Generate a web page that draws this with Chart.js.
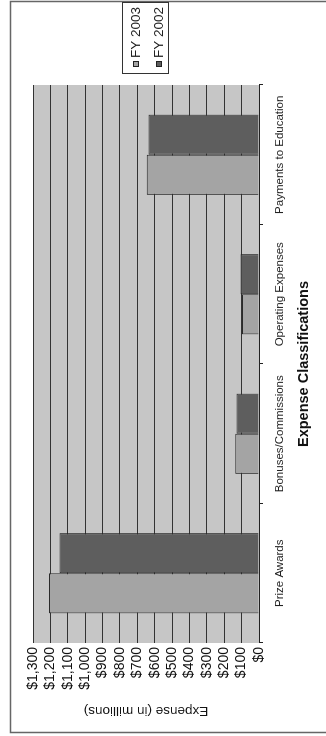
<!DOCTYPE html>
<html>
<head>
<meta charset="utf-8">
<script src="https://cdn.jsdelivr.net/npm/chart.js@4/dist/chart.umd.min.js"></script>
<style>
  html, body { margin: 0; padding: 0; background: #fff; }
  body { width: 326px; height: 736px; overflow: hidden; position: relative; }
  /* the chart is laid out landscape and turned a quarter turn counter-clockwise */
  #wrap {
    position: absolute; left: 0; top: 0;
    width: 736px; height: 326px;
    transform-origin: 0 0;
    transform: translateY(736px) rotate(-90deg);
  }
  canvas { display: block; }
</style>
</head>
<body>
<div id="wrap"><canvas id="chart" width="736" height="326"></canvas></div>
<script>
// Expense by classification, in millions of dollars
const categories = ['Prize Awards', 'Bonuses/Commissions', 'Operating Expenses', 'Payments to Education'];
const seriesNames = ['FY 2003', 'FY 2002'];
const fy2003 = [1208, 136, 98, 645];
const fy2002 = [1147, 130, 107, 635];
const valueTicks = ['$0', '$100', '$200', '$300', '$400', '$500', '$600', '$700', '$800', '$900', '$1,000', '$1,100', '$1,200', '$1,300'];

const FONT = '"Liberation Sans", Arial, sans-serif';
const LIGHT = '#a4a4a4';
const DARK = '#5e5e5e';

// white page, outer frame and grey plot wall
const backdrop = {
  id: 'backdrop',
  beforeDraw(chart) {
    const { ctx, chartArea: a } = chart;
    ctx.save();
    ctx.fillStyle = '#fff';
    ctx.fillRect(0, 0, chart.width, chart.height);
    ctx.fillStyle = '#c6c6c6';
    ctx.fillRect(a.left, a.top, a.right - a.left, a.bottom - a.top);
    ctx.strokeStyle = '#666';
    ctx.lineWidth = 1.5;
    ctx.strokeRect(3.5, 10.5, 731, 340);
    ctx.restore();
  }
};

// boxed legend at the right of the plot
const boxLegend = {
  id: 'boxLegend',
  afterDraw(chart) {
    const { ctx } = chart;
    const x0 = 662, y0 = 122, w = 71, h = 46;
    ctx.save();
    ctx.fillStyle = '#fff';
    ctx.fillRect(x0, y0, w, h);
    ctx.strokeStyle = '#333';
    ctx.lineWidth = 1;
    ctx.strokeRect(x0 + 0.5, y0 + 0.5, w, h);
    ctx.font = '13.5px ' + FONT;
    ctx.textBaseline = 'middle';
    chart.data.datasets.forEach((ds, i) => {
      const cy = y0 + 14 + i * 23;
      ctx.fillStyle = ds.backgroundColor;
      ctx.fillRect(x0 + 7, cy - 3, 6, 6);
      ctx.strokeStyle = '#222';
      ctx.strokeRect(x0 + 7.5, cy - 2.5, 5, 5);
      ctx.fillStyle = '#222';
      ctx.fillText(ds.label, x0 + 16, cy + 0.5);
    });
    ctx.restore();
  }
};

new Chart(document.getElementById('chart'), {
  type: 'bar',
  data: {
    labels: categories,
    datasets: [
      { label: seriesNames[0], data: fy2003, backgroundColor: LIGHT, borderColor: '#2a2a2a', borderWidth: 1 },
      { label: seriesNames[1], data: fy2002, backgroundColor: DARK, borderColor: '#2a2a2a', borderWidth: 1 }
    ]
  },
  options: {
    responsive: false,
    animation: false,
    devicePixelRatio: 1,
    categoryPercentage: 0.575,
    barPercentage: 1,
    layout: { padding: { left: 10, top: 33, right: 85, bottom: 0 } },
    plugins: { legend: { display: false }, tooltip: { enabled: false } },
    scales: {
      x: {
        afterFit(s) { s.height = 67; },
        grid: { drawOnChartArea: false, tickLength: 4, color: '#222', offset: true },
        border: { color: '#222', width: 1 },
        ticks: { color: '#222', font: { family: FONT, size: 11.5 }, padding: 10, maxRotation: 0, autoSkip: false },
        title: { display: true, text: 'Expense Classifications', color: '#111', font: { family: FONT, size: 14.5, weight: 'bold' }, padding: { top: 0, bottom: 13 } }
      },
      y: {
        min: 0, max: 1300,
        afterFit(s) { s.width = 83; },
        grid: { color: '#333', lineWidth: 1, drawTicks: false },
        border: { display: false },
        ticks: { stepSize: 100, autoSkip: false, color: '#111', padding: 4, font: { family: FONT, size: 14 },
          callback: (v, i) => valueTicks[i] },
        title: { display: true, text: 'Expense (in millions)', color: '#111', font: { family: FONT, size: 13.5 }, padding: { top: 7, bottom: 0 } }
      }
    }
  },
  plugins: [backdrop, boxLegend]
});
</script>
</body>
</html>
